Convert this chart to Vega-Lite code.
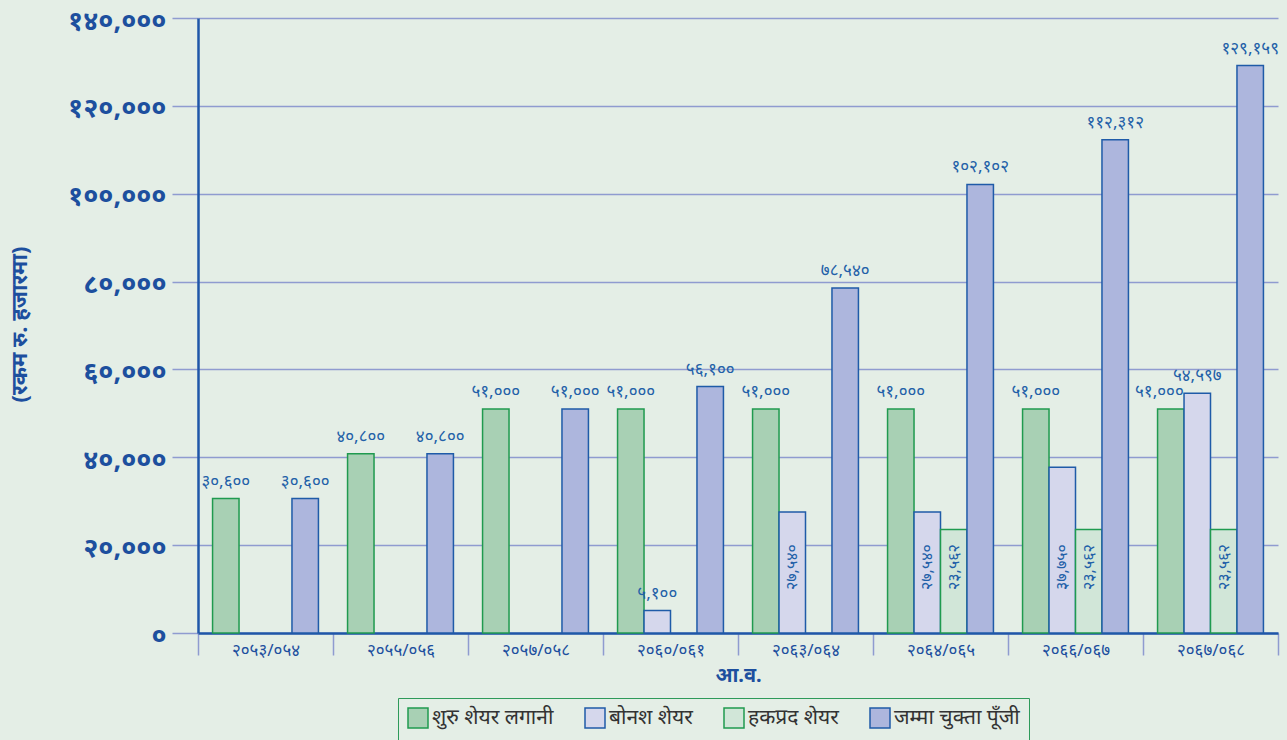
{
  "$schema": "https://vega.github.io/schema/vega-lite/v6.json",
  "width": 1080,
  "height": 615,
  "autosize": {"type": "none"},
  "padding": {"left": 198, "top": 18, "right": 9, "bottom": 107},
  "background": "#e4eee6",
  "config": {
    "view": {"stroke": null},
    "font": "Noto Sans",
    "axis": {"labelFont": "Noto Sans", "titleFont": "Noto Sans"}
  },
  "data": {
    "values": [
      {"year": "२०५३/०५४", "series": "शुरु शेयर लगानी", "value": 30600},
      {"year": "२०५३/०५४", "series": "जम्मा चुक्ता पूँजी", "value": 30600},
      {"year": "२०५५/०५६", "series": "शुरु शेयर लगानी", "value": 40800},
      {"year": "२०५५/०५६", "series": "जम्मा चुक्ता पूँजी", "value": 40800},
      {"year": "२०५७/०५८", "series": "शुरु शेयर लगानी", "value": 51000},
      {"year": "२०५७/०५८", "series": "जम्मा चुक्ता पूँजी", "value": 51000},
      {"year": "२०६०/०६१", "series": "शुरु शेयर लगानी", "value": 51000},
      {"year": "२०६०/०६१", "series": "बोनश शेयर", "value": 5100},
      {"year": "२०६०/०६१", "series": "जम्मा चुक्ता पूँजी", "value": 56100},
      {"year": "२०६३/०६४", "series": "शुरु शेयर लगानी", "value": 51000},
      {"year": "२०६३/०६४", "series": "बोनश शेयर", "value": 27540},
      {"year": "२०६३/०६४", "series": "जम्मा चुक्ता पूँजी", "value": 78540},
      {"year": "२०६४/०६५", "series": "शुरु शेयर लगानी", "value": 51000},
      {"year": "२०६४/०६५", "series": "बोनश शेयर", "value": 27540},
      {"year": "२०६४/०६५", "series": "हकप्रद शेयर", "value": 23562},
      {"year": "२०६४/०६५", "series": "जम्मा चुक्ता पूँजी", "value": 102102},
      {"year": "२०६६/०६७", "series": "शुरु शेयर लगानी", "value": 51000},
      {"year": "२०६६/०६७", "series": "बोनश शेयर", "value": 37750},
      {"year": "२०६६/०६७", "series": "हकप्रद शेयर", "value": 23562},
      {"year": "२०६६/०६७", "series": "जम्मा चुक्ता पूँजी", "value": 112312},
      {"year": "२०६७/०६८", "series": "शुरु शेयर लगानी", "value": 51000},
      {"year": "२०६७/०६८", "series": "बोनश शेयर", "value": 54597},
      {"year": "२०६७/०६८", "series": "हकप्रद शेयर", "value": 23562},
      {"year": "२०६७/०६८", "series": "जम्मा चुक्ता पूँजी", "value": 129159}
    ]
  },
  "transform": [
    {"calculate": "replace(replace(replace(replace(replace(replace(replace(replace(replace(replace(format(datum.value, ','), regexp('0','g'), '०'), regexp('1','g'), '१'), regexp('2','g'), '२'), regexp('3','g'), '३'), regexp('4','g'), '४'), regexp('5','g'), '५'), regexp('6','g'), '६'), regexp('7','g'), '७'), regexp('8','g'), '८'), regexp('9','g'), '९')", "as": "lbl"}
  ],
  "encoding": {
    "x": {
      "field": "year",
      "type": "nominal",
      "sort": null,
      "scale": {"paddingInner": 0, "paddingOuter": 0},
      "axis": {
        "title": "आ.व.",
        "titleFontSize": 20,
        "titleFontWeight": "bold",
        "titleColor": "#1d4f9e",
        "titleY": 32,
        "titleBaseline": "top",
        "labelAngle": 0,
        "labelFontSize": 17,
        "labelColor": "#1d4f9e",
        "labelPadding": -13,
        "domain": true,
        "domainColor": "#1f56a8",
        "domainWidth": 2.5,
        "ticks": true,
        "tickBand": "extent",
        "tickSize": 22,
        "tickColor": "#8f9bd0",
        "tickWidth": 1.5,
        "grid": false
      }
    },
    "xOffset": {
      "field": "series",
      "type": "nominal",
      "sort": ["शुरु शेयर लगानी", "बोनश शेयर", "हकप्रद शेयर", "जम्मा चुक्ता पूँजी"],
      "scale": {"paddingInner": 0, "paddingOuter": 0.55}
    }
  },
  "layer": [
    {
      "mark": {"type": "bar", "strokeWidth": 1.5},
      "encoding": {
        "y": {
          "field": "value",
          "type": "quantitative",
          "scale": {"domain": [0, 140000], "nice": false},
          "axis": {
            "values": [0, 20000, 40000, 60000, 80000, 100000, 120000, 140000],
            "labelExpr": "replace(replace(replace(replace(replace(replace(replace(replace(replace(replace(format(datum.value, ','), regexp('0','g'), '०'), regexp('1','g'), '१'), regexp('2','g'), '२'), regexp('3','g'), '३'), regexp('4','g'), '४'), regexp('5','g'), '५'), regexp('6','g'), '६'), regexp('7','g'), '७'), regexp('8','g'), '८'), regexp('9','g'), '९')",
            "labelFontSize": 27,
            "labelFontWeight": "bold",
            "labelColor": "#1d4f9e",
            "labelPadding": 6,
            "labelOffset": 3,
            "title": "(रकम रु. हजारमा)",
            "titleFontSize": 22,
            "titleFontWeight": "bold",
            "titleColor": "#1d4f9e",
            "titleX": -179,
            "titleY": 306,
            "titleBaseline": "middle",
            "titleAngle": 270,
            "domain": true,
            "domainColor": "#1f56a8",
            "domainWidth": 2.5,
            "ticks": true,
            "tickSize": 26,
            "tickColor": "#8f9bd0",
            "tickWidth": 1.5,
            "grid": true,
            "gridColor": "#8f9bd0",
            "gridWidth": 1.5
          }
        },
        "fill": {
          "field": "series",
          "type": "nominal",
          "scale": {
            "domain": ["शुरु शेयर लगानी", "बोनश शेयर", "हकप्रद शेयर", "जम्मा चुक्ता पूँजी"],
            "range": ["#a8d0b4", "#d5d7ec", "#d1e6d8", "#adb6dd"]
          },
          "legend": {
            "title": null,
            "orient": "none",
            "legendX": 200,
            "legendY": 680,
            "direction": "horizontal",
            "strokeColor": "#2e9a5a",
            "fillColor": "#e4eee6",
            "padding": 9,
            "symbolType": "square",
            "symbolSize": 400,
            "symbolStrokeWidth": 1.5,
            "labelFontSize": 21,
            "labelColor": "#333333",
            "labelOffset": 3,
            "columnPadding": 28
          }
        },
        "stroke": {
          "field": "series",
          "type": "nominal",
          "scale": {
            "domain": ["शुरु शेयर लगानी", "बोनश शेयर", "हकप्रद शेयर", "जम्मा चुक्ता पूँजी"],
            "range": ["#1f9a4f", "#1f5ba8", "#1f9a4f", "#1f5ba8"]
          },
          "legend": {
            "title": null,
            "orient": "none",
            "legendX": 200,
            "legendY": 680,
            "direction": "horizontal",
            "strokeColor": "#2e9a5a",
            "fillColor": "#e4eee6",
            "padding": 9,
            "symbolType": "square",
            "symbolSize": 400,
            "symbolStrokeWidth": 1.5,
            "labelFontSize": 21,
            "labelColor": "#333333",
            "labelOffset": 3,
            "columnPadding": 28
          }
        }
      }
    },
    {
      "transform": [{"filter": "!((datum.series === 'बोनश शेयर' || datum.series === 'हकप्रद शेयर') && datum.value > 10000 && datum.value < 50000) && !(datum.year === '२०६७/०६८' && datum.series === 'शुरु शेयर लगानी')"}],
      "mark": {"type": "text", "baseline": "bottom", "dy": -8, "fontSize": 17, "color": "#2260a8"},
      "encoding": {
        "y": {"field": "value", "type": "quantitative"},
        "text": {"field": "lbl"}
      }
    },
    {
      "transform": [{"filter": "datum.year === '२०६७/०६८' && datum.series === 'शुरु शेयर लगानी'"}],
      "mark": {"type": "text", "baseline": "bottom", "align": "right", "dx": 13, "dy": -8, "fontSize": 17, "color": "#2260a8"},
      "encoding": {
        "y": {"field": "value", "type": "quantitative"},
        "text": {"field": "lbl"}
      }
    },
    {
      "transform": [{"filter": "(datum.series === 'बोनश शेयर' || datum.series === 'हकप्रद शेयर') && datum.value > 10000 && datum.value < 50000"}],
      "mark": {"type": "text", "angle": 270, "baseline": "middle", "align": "center", "fontSize": 16, "color": "#2260a8"},
      "encoding": {
        "y": {"datum": 15000},
        "text": {"field": "lbl"}
      }
    }
  ]
}
